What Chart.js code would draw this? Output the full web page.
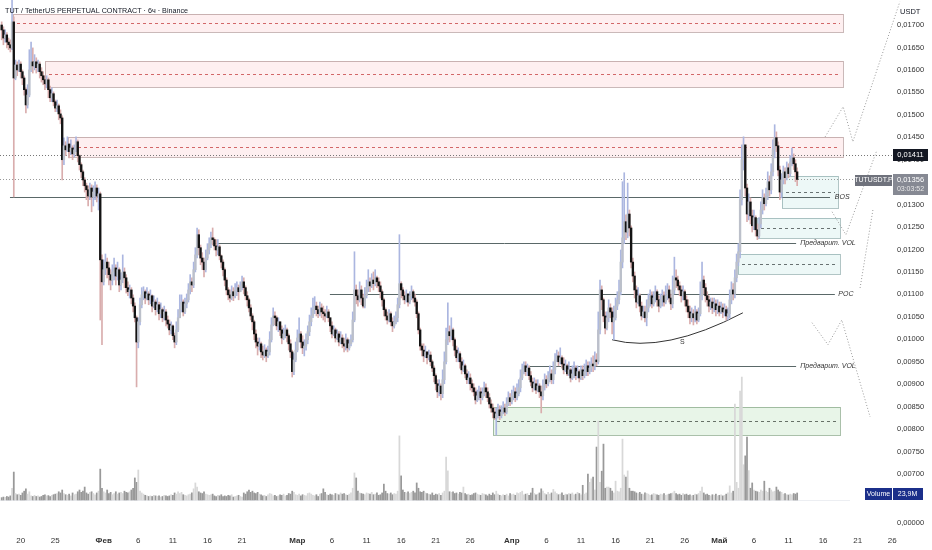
<!DOCTYPE html>
<html>
<head>
<meta charset="utf-8">
<script src="https://cdn.jsdelivr.net/npm/chart.js@4.4.1/dist/chart.umd.min.js"></script>
<style>
html, body { margin: 0; padding: 0; background: #fff; }
#wrap { width: 932px; height: 550px; position: relative; }
</style>
</head>
<body>
<div id="wrap"><canvas id="chart"></canvas></div>
<script>
// TUTUSDT.P, 6h candles. Prices in 1e-5 USDT, volume in millions.
// time = days from 20 Jan, first candle 17 Jan 06:00
const startDay = -2.75;
const stepDay = 0.25;
const firstOpen = 1700;

const closes = [
1689,1671,1678,1662,1656,1649,1707,1582,1611,1600,
1613,1596,1582,1556,1522,1544,1600,1618,1609,1618,
1605,1613,1596,1587,1578,1569,1578,1556,1538,1547,
1529,1515,1520,1502,1493,1400,1431,1422,1435,1418,
1426,1413,1422,1440,1409,1389,1373,1355,1342,1333,
1319,1337,1317,1328,1337,1319,1324,1177,1128,1155,
1172,1159,1144,1132,1150,1159,1141,1155,1121,1132,
1150,1137,1115,1106,1110,1092,1074,1048,994,1039,
1077,1099,1106,1092,1101,1088,1097,1074,1083,1066,
1077,1057,1066,1048,1061,1043,1034,1021,1030,1008,
994,1021,1048,1066,1083,1061,1079,1088,1110,1128,
1121,1155,1188,1233,1204,1181,1172,1155,1181,1199,
1213,1226,1222,1208,1199,1206,1186,1172,1155,1132,
1110,1099,1092,1106,1097,1110,1115,1106,1119,1128,
1115,1097,1088,1070,1052,1039,1012,994,985,990,
972,965,976,963,972,999,1032,1052,1048,1030,
1039,1021,1003,1012,1021,1008,990,972,928,954,
976,1003,1012,994,981,985,999,1017,1039,1052,
1066,1074,1066,1057,1070,1061,1057,1052,1061,1048,
1030,1012,1021,1003,1012,994,1003,990,985,999,
981,990,999,1043,1110,1097,1088,1110,1092,1074,
1097,1115,1128,1119,1132,1124,1137,1128,1119,1106,
1088,1066,1052,1043,1057,1039,1030,1039,1048,1077,
1124,1110,1097,1088,1101,1083,1097,1106,1092,1083,
1057,1021,985,976,963,972,959,965,950,936,
919,901,883,896,879,910,950,999,1017,1008,
1021,999,976,959,968,950,932,941,923,910,
914,901,892,883,865,874,883,870,879,892,
883,870,856,847,838,825,834,843,830,838,
847,838,856,870,861,874,883,870,879,892,
914,932,941,928,936,919,905,892,901,887,
896,883,874,896,910,901,914,923,910,932,
954,963,950,959,945,932,941,923,932,914,
923,936,919,928,914,932,919,928,941,928,
936,945,941,954,950,1021,1110,1088,1052,1025,
1048,1070,1061,1039,1048,1074,1088,1106,1172,1226,
1262,1239,1279,1248,1172,1141,1110,1083,1097,1074,
1052,1061,1048,1070,1088,1097,1079,1092,1106,1088,
1074,1088,1097,1083,1097,1110,1092,1079,1110,1137,
1132,1119,1110,1097,1106,1088,1074,1061,1048,1057,
1048,1061,1043,1057,1097,1132,1115,1097,1088,1074,
1083,1070,1079,1066,1074,1061,1070,1061,1066,1052,
1057,1088,1110,1101,1137,1172,1195,1311,1400,1433,
1337,1279,1306,1275,1253,1271,1244,1230,1257,1288,
1315,1302,1319,1351,1333,1373,1422,1449,1431,1377,
1328,1355,1373,1360,1382,1369,1395,1404,1391,1373,1356
];

const highs = [
1707,1696,1689,1683,1671,1667,1756,1718,1622,1618,
1622,1618,1600,1587,1560,1567,1645,1662,1649,1634,
1627,1622,1618,1605,1596,1587,1587,1582,1564,1560,
1551,1533,1533,1524,1511,1498,1449,1440,1451,1435,
1444,1431,1433,1451,1444,1411,1393,1377,1360,1348,
1342,1348,1344,1342,1351,1344,1337,1328,1188,1177,
1190,1181,1172,1155,1166,1181,1166,1172,1159,1148,
1188,1159,1144,1128,1121,1115,1099,1081,1052,1048,
1092,1115,1117,1110,1115,1106,1110,1099,1097,1088,
1092,1083,1081,1070,1074,1066,1052,1043,1039,1032,
1014,1039,1066,1099,1099,1088,1092,1101,1124,1144,
1137,1172,1204,1248,1244,1210,1193,1181,1199,1213,
1226,1239,1248,1226,1222,1222,1210,1188,1177,1159,
1137,1115,1110,1119,1115,1124,1128,1121,1128,1141,
1137,1119,1106,1092,1077,1057,1043,1021,1003,1003,
994,985,988,981,985,1017,1048,1070,1061,1052,
1048,1039,1030,1025,1032,1025,1012,999,976,968,
994,1021,1048,1017,1008,999,1012,1030,1054,1070,
1092,1095,1083,1074,1083,1079,1074,1066,1074,1066,
1048,1039,1030,1025,1021,1017,1017,1010,1003,1012,
1003,999,1010,1061,1195,1121,1110,1128,1119,1101,
1115,1132,1155,1137,1146,1150,1155,1141,1137,1128,
1110,1092,1070,1061,1066,1061,1048,1052,1061,1092,
1233,1128,1115,1106,1110,1101,1106,1119,1110,1101,
1088,1061,1025,990,990,985,972,976,972,954,
941,923,910,910,901,932,972,1025,1081,1030,
1048,1025,1003,985,981,972,959,954,945,932,
928,923,910,901,892,887,896,892,892,905,
901,892,879,865,856,847,847,856,852,852,
861,856,870,883,879,887,896,892,901,910,
932,945,950,950,945,941,928,914,914,910,
910,901,896,910,923,919,928,941,932,950,
968,976,972,981,963,959,954,945,950,936,
941,950,941,941,932,941,941,945,954,950,
950,959,963,972,968,1061,1132,1119,1092,1061,
1061,1088,1079,1070,1074,1092,1106,1132,1199,1351,
1371,1277,1348,1288,1253,1181,1150,1119,1115,1101,
1083,1074,1074,1088,1101,1110,1106,1106,1119,1110,
1097,1101,1110,1106,1119,1124,1119,1101,1141,1183,
1155,1141,1128,1119,1119,1110,1097,1088,1074,1070,
1066,1074,1066,1070,1128,1172,1141,1124,1106,1097,
1092,1092,1092,1088,1088,1083,1083,1079,1079,1074,
1070,1110,1128,1124,1155,1190,1213,1333,1433,1451,
1422,1346,1324,1315,1288,1288,1275,1257,1271,1306,
1333,1324,1337,1373,1364,1391,1444,1478,1462,1440,
1386,1369,1386,1382,1395,1391,1409,1426,1413,1400,1382
];

const lows = [
1667,1656,1662,1649,1645,1640,1645,1317,1578,1587,
1596,1582,1567,1544,1504,1515,1540,1596,1593,1600,
1593,1596,1582,1573,1567,1556,1560,1538,1529,1529,
1520,1507,1507,1489,1480,1355,1389,1409,1418,1404,
1411,1400,1406,1418,1395,1377,1360,1342,1328,1311,
1297,1311,1284,1297,1311,1306,1288,1043,988,1121,
1144,1137,1121,1110,1121,1132,1121,1132,1106,1110,
1126,1115,1103,1097,1092,1079,1061,1039,894,981,
1032,1070,1088,1079,1088,1077,1079,1061,1070,1054,
1061,1043,1048,1039,1043,1030,1025,1010,1012,999,
981,988,1017,1048,1061,1052,1057,1070,1083,1101,
1106,1115,1150,1181,1188,1166,1155,1139,1150,1177,
1190,1204,1210,1199,1186,1188,1177,1159,1141,1119,
1099,1088,1083,1088,1086,1092,1097,1088,1106,1110,
1101,1088,1074,1061,1043,1021,999,981,965,976,
959,954,959,950,959,965,994,1030,1032,1021,
1017,1008,990,999,1003,994,976,959,916,921,
950,972,994,981,968,963,976,990,1008,1030,
1048,1057,1052,1048,1052,1048,1043,1039,1048,1039,
1017,1003,1008,994,999,985,990,981,972,976,
972,976,985,994,1039,1079,1074,1083,1077,1070,
1070,1092,1106,1106,1115,1110,1119,1115,1106,1092,
1074,1052,1043,1034,1039,1030,1017,1025,1034,1039,
1070,1092,1088,1079,1083,1074,1079,1088,1083,1074,
1048,1012,976,963,950,959,945,954,941,928,
905,887,870,874,865,870,901,945,988,994,
999,985,963,950,950,936,923,928,914,901,
901,887,883,874,856,861,865,856,865,874,
870,861,847,838,825,821,787,825,821,825,
834,830,834,852,852,856,865,861,865,874,
883,910,923,919,919,910,896,883,887,879,
883,870,836,865,887,892,896,905,901,901,
923,950,941,945,936,923,928,919,919,905,
910,914,910,914,905,910,910,914,919,919,
923,928,928,932,941,945,1012,1066,1039,1012,
1021,1039,1048,1012,999,1043,1066,1079,1099,1159,
1213,1222,1226,1230,1159,1128,1092,1070,1079,1061,
1043,1048,1039,1030,1061,1074,1070,1074,1083,1074,
1061,1070,1074,1074,1079,1088,1083,1066,1070,1101,
1115,1110,1097,1083,1088,1074,1061,1048,1034,1039,
1032,1039,1034,1039,1052,1088,1101,1083,1074,1061,
1066,1057,1061,1052,1057,1052,1057,1048,1052,1043,
1043,1048,1079,1088,1092,1128,1164,1181,1299,1377,
1319,1262,1266,1257,1239,1244,1230,1222,1226,1248,
1279,1288,1297,1311,1319,1324,1364,1404,1418,1364,
1311,1315,1346,1346,1355,1360,1364,1386,1378,1351,1342
];

const volumes = [
8,10,9,12,10,14,40,95,22,18,
20,16,24,30,38,20,28,14,12,16,
12,14,10,12,16,18,14,15,12,16,
18,20,22,28,24,34,22,18,16,20,
14,24,18,20,28,34,26,30,44,24,
20,26,28,22,18,24,30,105,40,28,
24,34,22,26,18,22,28,20,24,26,
22,30,26,24,28,34,40,75,60,102,
30,24,20,16,14,12,14,12,16,14,
12,14,10,12,16,14,12,14,18,16,
24,20,28,22,26,18,16,14,18,20,
24,38,58,44,28,24,22,28,20,18,
16,18,20,14,12,16,14,18,12,14,
12,16,14,18,10,12,14,16,12,10,
24,20,28,34,26,30,24,22,26,20,
18,14,16,12,18,22,20,14,16,12,
14,18,16,20,14,16,22,20,30,26,
18,16,20,14,18,16,14,22,24,20,
16,14,18,12,20,22,38,26,18,16,
20,18,16,22,20,18,24,20,22,18,
16,20,24,40,92,75,30,24,22,20,
18,24,22,20,26,18,20,24,16,18,
24,54,30,22,20,24,18,22,20,30,
218,82,34,26,24,28,22,26,30,24,
58,40,28,26,30,24,22,20,18,24,
16,20,18,22,16,24,30,146,99,28,
26,28,22,24,20,26,24,44,22,18,
20,16,18,22,24,20,18,16,22,20,
18,14,20,16,24,18,30,20,16,14,
18,16,20,14,22,18,20,16,24,22,
26,30,18,20,22,16,24,40,22,18,
20,24,38,30,22,18,26,20,24,36,
28,22,18,20,24,16,20,18,22,20,
24,18,20,26,22,18,50,20,24,88,
60,72,78,34,180,268,60,98,190,40,
44,44,40,30,24,64,30,28,40,207,
85,78,99,40,30,30,28,24,22,26,
20,18,24,22,20,16,18,22,20,18,
16,20,18,22,16,18,20,22,24,30,
22,18,20,16,22,18,20,16,18,14,
16,20,18,22,30,44,24,18,20,16,
14,18,16,20,14,16,18,14,16,20,
24,48,24,30,326,60,40,370,418,120,
150,214,100,40,58,34,30,28,26,34,
30,64,30,26,40,34,28,30,44,34,
28,26,20,22,18,17,20,18,22,20,23.9
];

// price axis ticks (1e-5 USDT) and time axis ticks (days from 20 Jan)
const priceTicks = [700,750,800,850,900,950,1000,1050,1100,1150,1200,1250,1300,1350,1400,1450,1500,1550,1600,1650,1700];
const zeroLabelAt = 591;
const dayTicks = [0,5,12,17,22,27,32,40,45,50,55,60,65,71,76,81,86,91,96,101,106,111,116,121,126];
const dayLabels = ['20','25','Фев','6','11','16','21','Мар','6','11','16','21','26','Апр','6','11','16','21','26','Май','6','11','16','21','26'];
const monthLabels = ['Фев','Мар','Апр','Май'];

// drawings: [fromDay, toDay, top, bottom, midline]
const supplyZones = [
  [-1.1, 118.9, 1725, 1685, 1705],
  [3.5, 118.9, 1620, 1562, 1591],
  [6.8, 118.9, 1451, 1406, 1429]
];
const demandZones = [
  [68.3, 118.5, 850, 787, 818],
  [110.1, 118.2, 1364, 1293, 1328],
  [106.5, 118.5, 1271, 1226, 1248],
  [103.7, 118.5, 1190, 1146, 1168]
];
const levels = [
  { from: -1.55, to: 117.0, price: 1317, text: 'BOS', at: 117.7 },
  { from: 27.8, to: 112.1, price: 1215, text: 'Предварит. VOL', at: 112.7 },
  { from: 44.7, to: 117.7, price: 1101, text: 'POC', at: 118.2 },
  { from: 73.6, to: 112.1, price: 941, text: 'Предварит. VOL', at: 112.7 }
];
const zigzags = [
  [[116.3, 1451], [118.9, 1518], [120.3, 1440], [127.1, 1752]],
  [[117.3, 1284], [119.3, 1233], [123.7, 1418]],
  [[123.2, 1288], [121.3, 1110]],
  [[114.4, 1037], [116.7, 988], [118.7, 1043], [122.8, 827]]
];
const arcS = { start: [85.5, 999], ctrl: [93.1, 968], end: [104.4, 1059], label: [95.3, 994] };
const markLevel = 1411;

const U = 1e-5;
const FONT = "'Liberation Sans', Arial, sans-serif";

const opens = closes.map((c, i) => i === 0 ? firstOpen : closes[i - 1]);
const days = closes.map((c, i) => startDay + stepDay * i);
const isUp = closes.map((c, i) => c >= opens[i]);

const wickData = days.map((d, i) => ({
  x: d,
  y: [Math.min(lows[i], opens[i], closes[i]) * U, Math.max(highs[i], opens[i], closes[i]) * U]
}));
const bodyData = days.map((d, i) => ({
  x: d,
  y: [Math.min(opens[i], closes[i]) * U, Math.max(opens[i], closes[i]) * U]
}));
const volData = days.map((d, i) => ({ x: d, y: volumes[i] }));

const lastClose = closes[closes.length - 1];

const drawings = {
  id: 'drawings',
  beforeDatasetsDraw(chart) {
    const { ctx, chartArea: a, scales: { x, y } } = chart;
    const X = d => x.getPixelForValue(d);
    const Y = p => y.getPixelForValue(p * U);
    ctx.save();
    ctx.beginPath();
    ctx.rect(a.left, a.top, a.right - a.left, a.bottom - a.top);
    ctx.clip();

    // volume pane base line
    const yb = Math.round(chart.scales.yv.getPixelForValue(0)) + 0.5;
    ctx.strokeStyle = '#eceef2';
    ctx.lineWidth = 1;
    ctx.beginPath(); ctx.moveTo(0, yb); ctx.lineTo(chart.width, yb); ctx.stroke();

    const zone = (z, fill, border, dash) => {
      const x0 = Math.round(X(z[0])), x1 = Math.round(X(z[1]));
      const y0 = Math.round(Y(z[2])), y1 = Math.round(Y(z[3]));
      ctx.fillStyle = fill;
      ctx.fillRect(x0, y0, x1 - x0, y1 - y0);
      ctx.setLineDash([]);
      ctx.strokeStyle = border;
      ctx.strokeRect(x0 + 0.5, y0 + 0.5, x1 - x0, y1 - y0);
      const ym = Math.round(Y(z[4])) + 0.5;
      ctx.setLineDash([3, 3]);
      ctx.strokeStyle = dash;
      ctx.beginPath(); ctx.moveTo(x0 + 4, ym); ctx.lineTo(x1 - 3, ym); ctx.stroke();
    };
    supplyZones.forEach(z => zone(z, 'rgba(242, 54, 69, 0.08)', 'rgba(150, 115, 115, 0.5)', 'rgba(200, 70, 70, 0.8)'));
    demandZones.forEach((z, i) => {
      if (i === 0) zone(z, 'rgba(76, 175, 80, 0.13)', 'rgba(100, 140, 100, 0.55)', 'rgba(70, 80, 70, 0.8)');
      else zone(z, 'rgba(0, 150, 136, 0.07)', 'rgba(100, 140, 140, 0.5)', 'rgba(70, 80, 80, 0.8)');
    });

    ctx.setLineDash([]);
    ctx.strokeStyle = '#5a6868';
    levels.forEach(l => {
      const yy = Math.round(Y(l.price)) + 0.5;
      ctx.beginPath(); ctx.moveTo(X(l.from), yy); ctx.lineTo(X(l.to), yy); ctx.stroke();
    });

    ctx.strokeStyle = '#333';
    ctx.beginPath();
    ctx.moveTo(X(arcS.start[0]), Y(arcS.start[1]));
    ctx.quadraticCurveTo(X(arcS.ctrl[0]), Y(arcS.ctrl[1]), X(arcS.end[0]), Y(arcS.end[1]));
    ctx.stroke();
    ctx.restore();

    // dotted price lines
    ctx.save();
    ctx.setLineDash([1, 2]);
    ctx.strokeStyle = '#777';
    let yy = Math.round(Y(markLevel)) + 0.5;
    ctx.beginPath(); ctx.moveTo(0, yy); ctx.lineTo(893, yy); ctx.stroke();
    ctx.strokeStyle = '#999';
    yy = Math.round(Y(lastClose)) + 0.5;
    ctx.beginPath(); ctx.moveTo(0, yy); ctx.lineTo(855, yy); ctx.stroke();
    ctx.restore();
  },
  afterDraw(chart) {
    const { ctx, scales: { x, y } } = chart;
    const X = d => x.getPixelForValue(d);
    const Y = p => y.getPixelForValue(p * U);
    ctx.save();

    ctx.setLineDash([1, 2]);
    ctx.strokeStyle = '#9a9a9a';
    ctx.lineWidth = 1;
    zigzags.forEach(pts => {
      ctx.beginPath();
      pts.forEach((p, i) => i ? ctx.lineTo(X(p[0]), Y(p[1])) : ctx.moveTo(X(p[0]), Y(p[1])));
      ctx.stroke();
    });
    ctx.setLineDash([]);

    ctx.fillStyle = '#333';
    ctx.textBaseline = 'middle';
    ctx.textAlign = 'left';
    ctx.font = 'italic 7px ' + FONT;
    levels.forEach(l => ctx.fillText(l.text, X(l.at), Y(l.price)));
    ctx.font = '7px ' + FONT;
    ctx.fillText('S', X(arcS.label[0]), Y(arcS.label[1]));

    ctx.fillStyle = '#131722';
    ctx.font = '7.2px ' + FONT;
    ctx.fillText('TUT / TetherUS PERPETUAL CONTRACT · 6ч · Binance', 5, 11);
    ctx.font = '7.5px ' + FONT;
    ctx.fillText('USDT', 900, 12);

    // price tags
    ctx.textAlign = 'center';
    let yy = Math.round(Y(markLevel));
    ctx.fillStyle = '#131722';
    ctx.fillRect(893, yy - 6, 35, 12);
    ctx.fillStyle = '#fff';
    ctx.font = '7.5px ' + FONT;
    ctx.fillText((markLevel * U).toFixed(5).replace('.', ','), 910.5, yy);

    yy = Math.round(Y(lastClose));
    ctx.fillStyle = '#6f727c';
    ctx.fillRect(855, yy - 4, 37, 11);
    ctx.fillStyle = '#868993';
    ctx.fillRect(893, yy - 5, 35, 21);
    ctx.fillStyle = '#fff';
    ctx.font = '7px ' + FONT;
    ctx.fillText('TUTUSDT.P', 873.5, yy + 1.5);
    ctx.font = '7.5px ' + FONT;
    ctx.fillText((lastClose * U).toFixed(5).replace('.', ','), 910.5, yy + 1);
    ctx.fillStyle = '#e8e8e8';
    ctx.font = '7px ' + FONT;
    ctx.fillText('03:03:52', 910.5, yy + 10);

    // volume tag
    const yb = Math.round(chart.scales.yv.getPixelForValue(0));
    ctx.fillStyle = '#1b2f8a';
    ctx.fillRect(865, yb - 12, 27, 12);
    ctx.fillRect(893, yb - 12, 30, 12);
    ctx.fillStyle = '#fff';
    ctx.font = '7px ' + FONT;
    ctx.fillText('Volume', 878.5, yb - 6);
    ctx.fillText(volumes[volumes.length - 1].toFixed(1).replace('.', ',') + 'M', 907.5, yb - 6);
    ctx.restore();
  }
};

new Chart(document.getElementById('chart'), {
  type: 'bar',
  data: {
    datasets: [
      {
        label: 'body',
        data: bodyData,
        yAxisID: 'y',
        order: 0,
        grouped: false,
        barThickness: 1.7,
        minBarLength: 1,
        backgroundColor: isUp.map(u => u ? '#bcc0ca' : '#141414')
      },
      {
        label: 'wick',
        data: wickData,
        yAxisID: 'y',
        order: 1,
        grouped: false,
        barThickness: 1,
        backgroundColor: isUp.map(u => u ? '#abb6e0' : '#d9adad')
      },
      {
        label: 'Volume',
        data: volData,
        yAxisID: 'yv',
        order: 2,
        grouped: false,
        barThickness: 1.1,
        backgroundColor: isUp.map(u => u ? '#d8d8d8' : '#999999')
      }
    ]
  },
  options: {
    responsive: true,
    maintainAspectRatio: false,
    animation: false,
    events: [],
    layout: { padding: 0 },
    plugins: { legend: { display: false }, tooltip: { enabled: false } },
    scales: {
      x: {
        type: 'linear',
        min: -2.993,
        max: 119.89,
        offset: false,
        grid: { display: false, drawTicks: false },
        border: { display: false },
        afterBuildTicks: s => { s.ticks = dayTicks.map(v => ({ value: v })); },
        afterFit: s => { s.height = 20; s.paddingLeft = 0; s.paddingRight = 0; },
        ticks: {
          autoSkip: false,
          maxRotation: 0,
          padding: 6,
          color: '#333',
          font: c => ({ family: FONT, size: 8, weight: monthLabels.includes(dayLabels[c.index]) ? 'bold' : 'normal' }),
          callback: v => dayLabels[dayTicks.indexOf(v)]
        }
      },
      y: {
        position: 'right',
        min: 0.005753,
        max: 0.017557,
        grid: { display: false, drawTicks: false },
        border: { display: false },
        afterBuildTicks: s => { s.ticks = [zeroLabelAt, ...priceTicks].map(v => ({ value: v * U })); },
        afterFit: s => { s.width = 82; s.paddingTop = 0; s.paddingBottom = 0; },
        ticks: {
          autoSkip: false,
          padding: 47,
          color: '#333',
          font: { family: FONT, size: 7.5 },
          callback: v => v < 0.006 ? '0,00000' : v.toFixed(5).replace('.', ',')
        }
      },
      yv: {
        display: false,
        min: -102,
        max: 1700
      }
    }
  },
  plugins: [drawings]
});
</script>
</body>
</html>
